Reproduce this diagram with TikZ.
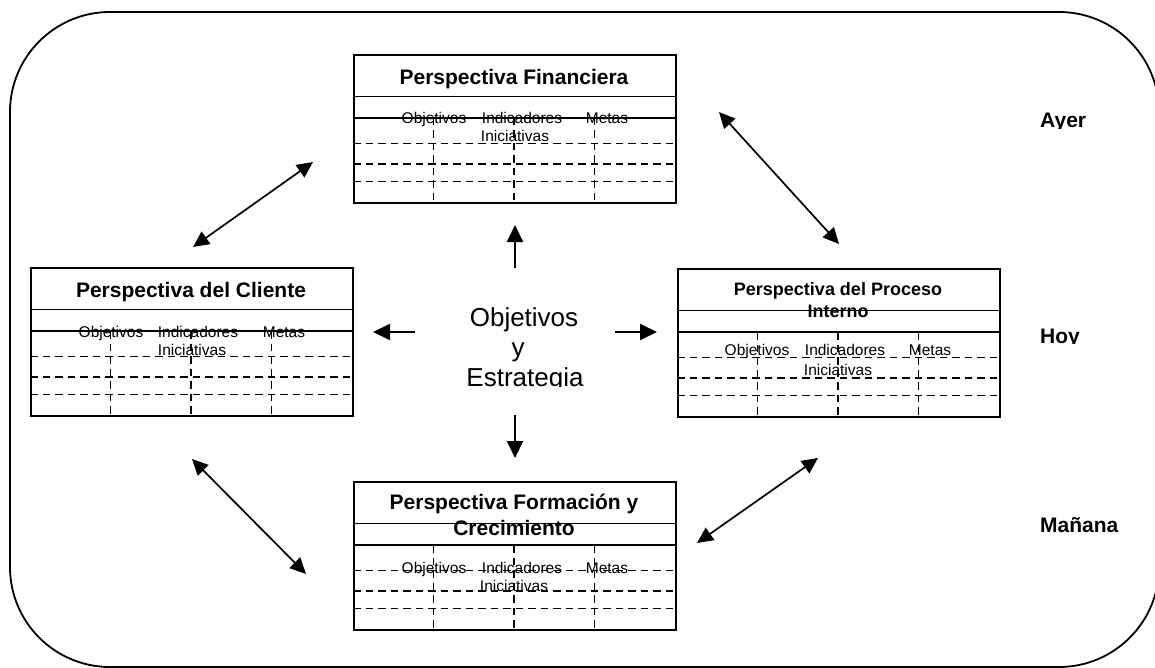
\documentclass[tikz,border=0pt]{standalone}
\usepackage{fontspec}
\setmainfont{Liberation Sans}
\usetikzlibrary{arrows.meta,calc}

\tikzset{
  outerframe/.style={line width=1.8pt, rounded corners=100pt},
  boxline/.style={line width=1.9pt},
  gridline/.style={line width=1.5pt, dash pattern=on 7.5pt off 5pt},
  tablebox/.style={draw, boxline, minimum width=322pt, minimum height=148pt,
                   anchor=north west, inner sep=0pt},
  ttl/.style={font=\bfseries\fontsize{21}{25}\selectfont, inner sep=0pt, anchor=base},
  ttlsmall/.style={font=\bfseries\fontsize{18}{22}\selectfont, inner sep=0pt, anchor=base},
  lbl/.style={font=\fontsize{15.5}{18}\selectfont, inner sep=0pt, anchor=base},
  centre/.style={font=\fontsize{26}{30}\selectfont, inner sep=0pt, anchor=base},
  era/.style={font=\bfseries\fontsize{21}{25}\selectfont, inner sep=0pt, anchor=base west},
  dbl/.style={line width=1.7pt,
              {Triangle[length=16pt,width=15pt]}-{Triangle[length=16pt,width=15pt]}},
  sgl/.style={line width=2pt, -{Triangle[length=17pt,width=16pt]}},
}

% rows and columns of one perspective table (origin = top-left corner)
\newcommand\bscgrid[1]{%
  \node[tablebox] (#1) at (0,0) {};
  \draw[boxline] (0,42.5) -- (322,42.5);
  \draw[boxline] (0,64) -- (322,64);
  \foreach \yy in {89.5,110,127.5} \draw[gridline] (0,\yy) -- (322,\yy);
  \foreach \xx in {80.5,161,241.5} \draw[gridline] (\xx,64) -- (\xx,148);
}

\begin{document}
\begin{tikzpicture}[x=1pt,y=-1pt]
\clip (0,0) rectangle (1155,668);

% outer rounded frame
\draw[outerframe] (10,12) rectangle (1159,667);

% Perspectiva Financiera
\begin{scope}[shift={(353,54)}]
  \bscgrid{fin}
  \node[ttl] (fin-t) at (161,30.3) {Perspectiva Financiera};
  \node[lbl] (fin-o) at (81,70) {Objetivos};
  \node[lbl] (fin-i) at (169,70) {Indicadores};
  \node[lbl] (fin-m) at (254,70) {Metas};
  \node[lbl] (fin-n) at (162,87.7) {Iniciativas};
\end{scope}

% Perspectiva del Cliente
\begin{scope}[shift={(30,267)}]
  \bscgrid{cli}
  \node[ttl] (cli-t) at (161,30.7) {Perspectiva del Cliente};
  \node[lbl] (cli-o) at (81,70.3) {Objetivos};
  \node[lbl] (cli-i) at (168,70.3) {Indicadores};
  \node[lbl] (cli-m) at (254,70.3) {Metas};
  \node[lbl] (cli-n) at (162,88) {Iniciativas};
\end{scope}

% Perspectiva del Proceso Interno
\begin{scope}[shift={(677,268)}]
  \bscgrid{pro}
  \node[ttlsmall] (pro-t1) at (161,27) {Perspectiva del Proceso};
  \node[ttlsmall] (pro-t2) at (161,49) {Interno};
  \node[lbl] (pro-o) at (80,87) {Objetivos};
  \node[lbl] (pro-i) at (168,87) {Indicadores};
  \node[lbl] (pro-m) at (253,87) {Metas};
  \node[lbl] (pro-n) at (161,107) {Iniciativas};
\end{scope}

% Perspectiva Formacion y Crecimiento
\begin{scope}[shift={(353,481)}]
  \bscgrid{for}
  \node[ttl] (for-t1) at (161,28) {Perspectiva Formación y};
  \node[ttl] (for-t2) at (161,54.7) {Crecimiento};
  \node[lbl] (for-o) at (81,92.3) {Objetivos};
  \node[lbl] (for-i) at (169,92.3) {Indicadores};
  \node[lbl] (for-m) at (254,92.3) {Metas};
  \node[lbl] (for-n) at (161,110.7) {Iniciativas};
\end{scope}

% central statement
\node[centre] (obj1) at (524,326) {Objetivos};
\node[centre] (obj2) at (518,356) {y};
\begin{scope}
  \clip (420,360) rectangle (630,386.5);
  \node[centre] (obj3) at (525,386) {Estrategia};
\end{scope}

% time labels
\begin{scope}
  \clip (1030,100) rectangle (1150,128.5);
  \node[era] (ayer) at (1040,128) {Ayer};
\end{scope}
\begin{scope}
  \clip (1030,310) rectangle (1150,343.5);
  \node[era] (hoy) at (1040,343) {Hoy};
\end{scope}
\node[era] (manana) at (1040,532) {Mañana};

% arrow end points
\coordinate (up-a) at (515,268);   \coordinate (up-b) at (515,225);
\coordinate (dn-a) at (515,415);   \coordinate (dn-b) at (515,458);
\coordinate (lf-a) at (415,332);   \coordinate (lf-b) at (373,332);
\coordinate (rt-a) at (615,332);   \coordinate (rt-b) at (657,332);
\coordinate (tl-a) at (193,247);   \coordinate (tl-b) at (313,162);
\coordinate (tr-a) at (719,112);   \coordinate (tr-b) at (839,244);
\coordinate (bl-a) at (192,459);   \coordinate (bl-b) at (306,574);
\coordinate (br-a) at (697,543);   \coordinate (br-b) at (818,458);

% arrows out of the strategy
\draw[sgl] (up-a) -- (up-b);
\draw[sgl] (dn-a) -- (dn-b);
\draw[sgl] (lf-a) -- (lf-b);
\draw[sgl] (rt-a) -- (rt-b);

% links between perspectives
\draw[dbl] (tl-a) -- (tl-b);
\draw[dbl] (tr-a) -- (tr-b);
\draw[dbl] (bl-a) -- (bl-b);
\draw[dbl] (br-a) -- (br-b);
\end{tikzpicture}
\end{document}
